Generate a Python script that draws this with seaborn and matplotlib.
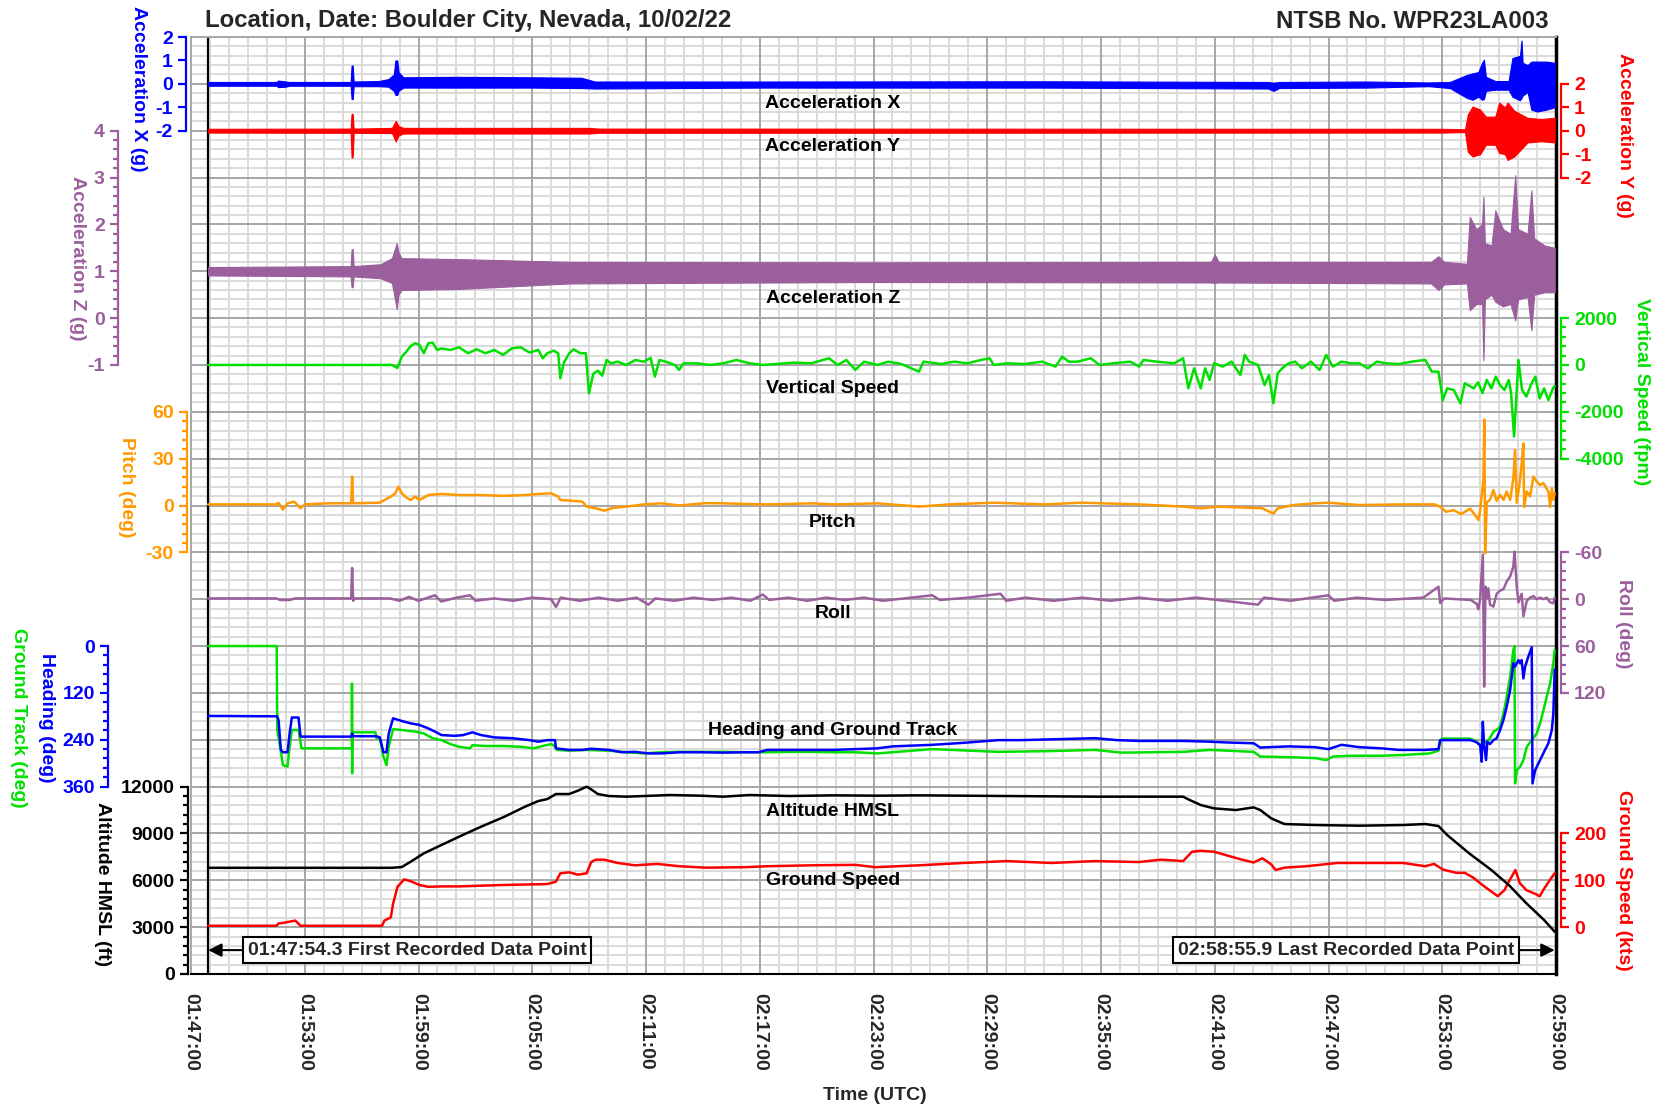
"""
Flight data plot: Boulder City, Nevada, 10/02/22 (NTSB WPR23LA003).
Time axis is minutes after 01:47:00 UTC; each parameter sits on its own
offset y-axis that shares a 20-row background grid.
"""

import numpy as np
import matplotlib

matplotlib.use("Agg")
import matplotlib.pyplot as plt  # noqa: E402
import seaborn as sns  # noqa: E402
from matplotlib.ticker import FixedLocator, StrMethodFormatter  # noqa: E402

# ── Data (minutes after 01:47:00) ─────────────────────────────────────────────
FIRST_POINT = 0.905   # 01:47:54.3
LAST_POINT = 71.93    # 02:58:55.9

XTICK_LABELS = ["01:47:00", "01:53:00", "01:59:00", "02:05:00", "02:11:00",
                "02:17:00", "02:23:00", "02:29:00", "02:35:00", "02:41:00",
                "02:47:00", "02:53:00", "02:59:00"]

# acceleration traces are dense noise: kept as (time, low, high) envelopes
ACC_X = [(0.905, -0.08, 0.08), (4.5, -0.08, 0.08), (4.6, -0.14, 0.14),
         (5.0, -0.12, 0.1), (5.2, -0.08, 0.08), (8.42, -0.08, 0.08),
         (8.47, -0.65, 0.78), (8.53, -0.65, 0.78), (8.58, -0.1, 0.1),
         (9.9, -0.1, 0.12), (10.4, -0.12, 0.2), (10.7, -0.3, 0.4),
         (10.78, -0.47, 1.0), (10.88, -0.47, 1.0), (10.95, -0.3, 0.5),
         (11.2, -0.16, 0.28), (14.0, -0.16, 0.3), (18.0, -0.16, 0.28),
         (20.6, -0.18, 0.26), (21.3, -0.2, 0.1), (30.0, -0.16, 0.1),
         (45.0, -0.16, 0.11), (56.8, -0.2, 0.08), (57.1, -0.3, 0.05),
         (57.4, -0.18, 0.08), (62.0, -0.16, 0.1), (65.3, -0.1, 0.06),
         (66.4, -0.18, 0.08), (67.3, -0.6, 0.38), (67.6, -0.68, 0.45),
         (67.9, -0.55, 0.5), (68.1, -0.68, 0.9), (68.2, -0.65, 1.03),
         (68.3, -0.3, 0.3), (68.8, -0.25, 0.12), (69.5, -0.25, 0.12),
         (69.7, -0.55, 1.1), (70.1, -0.7, 1.2), (70.18, -0.6, 1.85),
         (70.24, -0.5, 0.9), (70.5, -0.35, 0.8), (70.7, -1.1, 0.95),
         (71.0, -1.18, 0.95), (71.5, -1.1, 0.95), (71.93, -1.0, 0.9)]

ACC_Y = [(0.905, -0.08, 0.08), (8.42, -0.09, 0.09), (8.47, -1.14, 0.72),
         (8.53, -1.14, 0.72), (8.58, -0.09, 0.09), (10.6, -0.1, 0.12),
         (10.8, -0.46, 0.42), (10.95, -0.2, 0.2), (11.2, -0.12, 0.12),
         (21.0, -0.12, 0.12), (21.5, -0.09, 0.09), (66.0, -0.08, 0.08),
         (67.2, -0.06, 0.06), (67.35, -0.9, 0.7), (67.6, -1.1, 1.03),
         (68.0, -1.0, 0.9), (68.3, -0.6, 0.6), (68.8, -0.6, 0.6),
         (69.0, -0.95, 1.2), (69.3, -1.0, 1.0), (69.45, -1.25, 1.2),
         (69.8, -1.1, 0.85), (70.5, -0.5, 0.55), (71.2, -0.45, 0.5),
         (71.93, -0.5, 0.55)]

ACC_Z = [(0.905, 0.91, 1.09), (5.0, 0.9, 1.1), (8.42, 0.89, 1.11),
         (8.47, 0.66, 1.47), (8.53, 0.66, 1.47), (8.58, 0.89, 1.11),
         (10.0, 0.85, 1.15), (10.6, 0.75, 1.28), (10.85, 0.19, 1.6),
         (10.95, 0.5, 1.4), (11.1, 0.6, 1.28), (14.0, 0.62, 1.26),
         (17.0, 0.68, 1.23), (20.0, 0.74, 1.2), (36.0, 0.77, 1.19),
         (53.8, 0.76, 1.2), (54.0, 0.75, 1.36), (54.2, 0.76, 1.2),
         (65.4, 0.74, 1.2), (65.8, 0.6, 1.32), (66.1, 0.72, 1.2),
         (67.3, 0.74, 1.16), (67.45, 0.17, 2.16), (67.8, 0.3, 1.9),
         (68.1, 0.3, 2.0), (68.17, -0.9, 2.59), (68.25, 0.4, 1.6),
         (68.6, 0.5, 1.55), (68.8, 0.35, 2.3), (69.2, 0.25, 1.9),
         (69.6, 0.3, 1.8), (69.85, -0.05, 3.05), (70.0, 0.4, 1.9),
         (70.5, 0.45, 1.8), (70.7, -0.26, 2.73), (70.85, 0.5, 1.7),
         (71.4, 0.55, 1.55), (71.93, 0.55, 1.5)]

VERT_SPEED = [
    (0.905, 0), (10.6, 0), (10.89, -130), (11.12, 355), (11.36, 570),
    (11.59, 810), (11.82, 925), (12.05, 860), (12.28, 500), (12.52, 925),
    (12.75, 950), (12.98, 640), (13.21, 700), (13.68, 640), (14.14, 755),
    (14.61, 500), (15.07, 670), (15.53, 500), (16.0, 640), (16.46, 430),
    (16.93, 710), (17.39, 755), (17.86, 530), (18.32, 640), (18.55, 285),
    (18.79, 500), (19.13, 610), (19.37, 500), (19.48, -570), (19.67, 100),
    (19.95, 500), (20.18, 670), (20.53, 500), (20.83, 500), (20.99, -1210),
    (21.22, -380), (21.46, -240), (21.69, -460), (21.92, 210), (22.15, 70),
    (22.5, 140), (22.96, 0), (23.43, 210), (23.89, 140), (24.24, 300),
    (24.47, -500), (24.71, 210), (25.05, 140), (25.52, 0), (25.75, -210),
    (25.98, 70), (26.68, 70), (27.38, 0), (28.07, 70), (28.77, 210),
    (29.47, 70), (30.16, 0), (30.86, 40), (31.79, 100), (32.72, 70),
    (33.65, 285), (34.11, 0), (34.57, 210), (35.04, -210), (35.5, 140),
    (36.2, 0), (36.78, 140), (37.47, 40), (38.4, -285), (38.63, 140),
    (39.56, 40), (40.26, 140), (40.96, 70), (41.65, 210), (42.12, 285),
    (42.35, 0), (43.05, 70), (43.97, 40), (44.9, 140), (45.6, -70),
    (45.95, 356), (46.3, 140), (46.76, 140), (47.46, 285), (47.92, 0),
    (48.62, 70), (49.55, 140), (50.01, -70), (50.24, 214), (50.94, 140),
    (51.87, 70), (52.33, 285), (52.61, -1000), (52.91, -142), (53.26, -1000),
    (53.49, -142), (53.73, -640), (53.96, 70), (54.42, -70), (54.89, 142),
    (55.35, -430), (55.58, 430), (55.81, 142), (56.28, 0), (56.63, -860),
    (56.86, -430), (57.09, -1640), (57.32, -356), (57.56, -142), (57.9, 70),
    (58.25, 142), (58.6, -142), (59.07, 142), (59.53, -214), (59.88, 430),
    (60.23, -70), (60.69, 142), (61.16, 70), (61.62, 70), (62.08, -142),
    (62.55, 142), (63.01, 70), (63.71, 40), (64.41, 142), (65.1, 214),
    (65.45, -285), (65.8, -285), (66.03, -1500), (66.26, -1000),
    (66.61, -1070), (66.96, -1640), (67.19, -780), (67.66, -1000),
    (67.89, -740), (68.12, -1200), (68.35, -640), (68.59, -1000),
    (68.82, -500), (69.05, -860), (69.28, -1070), (69.51, -640),
    (69.63, -1200), (69.79, -3060), (70.02, 210), (70.21, -1070),
    (70.44, -1350), (70.67, -860), (70.91, -500), (71.14, -1430),
    (71.37, -1000), (71.6, -1500), (71.84, -1000), (71.93, -900)]

PITCH = [
    (0.905, 0.7), (4.5, 0.7), (4.62, 1.7), (4.85, -2.6), (5.09, 1.4),
    (5.44, 2.5), (5.78, -1.8), (6.01, 0.7), (7.18, 1.4), (8.45, 1.4),
    (8.5, 18.5), (8.55, 1.4), (9.96, 1.8), (10.2, 3.5), (10.54, 5.7),
    (10.78, 7.8), (10.94, 12.1), (11.12, 7.8), (11.36, 5.1), (11.59, 3.5),
    (11.82, 5.7), (12.05, 3.5), (12.52, 6.7), (13.21, 7.4), (14.14, 6.7),
    (15.3, 6.7), (16.46, 6.2), (17.62, 6.7), (18.32, 7.4), (18.99, 7.8),
    (19.37, 5.7), (19.48, 3.5), (19.95, 3.2), (20.64, 2.5), (20.87, -0.7),
    (21.34, -1.8), (21.8, -3.3), (22.27, -1.5), (22.96, -0.7), (23.89, 0.7),
    (24.82, 1.4), (25.75, 0.0), (27.14, 1.5), (28.07, 1.4), (29.23, 1.0),
    (30.39, 0.7), (31.56, 1.0), (32.72, 1.4), (33.88, 0.7), (35.04, 1.0),
    (36.2, 1.4), (38.4, -0.7), (40.0, 0.7), (42.35, 1.8), (45.0, 0.7),
    (46.99, 1.8), (50.0, 0.7), (52.33, -0.7), (53.26, -1.8), (54.2, -0.7),
    (56.51, -1.8), (57.09, -5.2), (57.32, -1.8), (58.14, 0.3), (59.3, 1.4),
    (59.99, 1.8), (61.62, 0.3), (63.9, 0.7), (65.6, 0.7), (65.9, -0.9),
    (66.2, -4.0), (66.6, -3.0), (67.0, -5.5), (67.47, -2.0), (67.73, -6.1),
    (67.91, -9.3), (68.0, -3.0), (68.17, 16.3), (68.22, 55.0), (68.26, -30.6),
    (68.35, 2.0), (68.52, 3.6), (68.7, 9.9), (68.87, 2.9), (69.05, 6.8),
    (69.23, 3.6), (69.4, 8.9), (69.58, 3.6), (69.75, 17.4), (69.84, 35.5),
    (69.93, 1.7), (70.07, 13.3), (70.19, 27.0), (70.28, 39.8), (70.32, -0.9),
    (70.46, 9.0), (70.63, 5.8), (70.81, 18.5), (70.98, 15.3), (71.16, 13.2),
    (71.34, 14.3), (71.6, 8.9), (71.69, -0.9), (71.78, 11.0), (71.86, 3.6),
    (71.93, 7.9)]

ROLL = [
    (0.905, -1), (4.5, -1), (4.7, 1), (5.2, 1), (5.5, -1), (8.45, -1),
    (8.5, -40), (8.55, 2), (8.6, -1), (10.5, -1), (11.0, 2), (11.5, -3),
    (12.0, 2), (12.86, -5), (13.2, 3), (14.0, -2), (14.72, -5), (15.0, 2),
    (16.0, -1), (17.0, 2), (18.0, -2), (19.0, 0), (19.25, 10), (19.5, -2),
    (20.5, 2), (21.5, -2), (22.5, 2), (23.5, -2), (24.13, 7), (24.5, -1),
    (25.5, 2), (26.5, -2), (27.5, 1), (28.5, -2), (29.5, 2), (30.16, -6),
    (30.5, 1), (31.5, -2), (32.5, 2), (33.5, -2), (34.5, 1), (35.5, -2),
    (36.5, 2), (39.1, -5), (39.5, 1), (41.0, -2), (42.7, -7), (43.0, 2),
    (44.0, -2), (45.5, 2), (47.0, -2), (48.5, 2), (50.0, -2), (51.5, 2),
    (53.0, -2), (54.5, 2), (56.28, 7), (56.6, -2), (58.0, 2), (59.99, -5),
    (60.3, 2), (61.5, -2), (63.0, 1), (65.0, -2), (65.8, -16), (65.89, 5),
    (66.1, -1), (67.5, 1), (67.82, 6), (67.91, 13), (68.0, -1), (68.14, -57),
    (68.21, 112), (68.28, -16), (68.35, -1), (68.43, -14), (68.52, 7),
    (68.7, 9.4), (68.87, -7), (69.05, -11), (69.23, -13), (69.4, -22.6),
    (69.58, -29), (69.75, -41.7), (69.81, -61), (69.93, -16), (70.02, 4),
    (70.19, -7), (70.28, 22), (70.46, 2), (70.63, -2), (70.81, -4),
    (70.98, 0), (71.16, -2), (71.34, 0), (71.51, -2), (71.69, 4),
    (71.86, 5.3), (71.93, -2)]

HEADING = [
    (0.905, 179), (4.55, 180), (4.62, 190), (4.74, 266), (4.85, 272),
    (5.09, 272), (5.2, 224), (5.32, 183), (5.67, 183), (5.78, 232),
    (8.45, 232), (8.5, 224), (8.55, 231), (9.78, 231), (9.96, 234),
    (10.15, 272), (10.31, 272), (10.43, 224), (10.66, 185), (11.12, 192),
    (11.59, 198), (12.05, 202), (12.52, 211), (12.86, 219), (13.21, 228),
    (13.91, 230), (14.37, 228), (14.84, 221), (15.3, 228), (16.0, 234),
    (16.93, 236), (17.86, 241), (18.32, 245), (18.79, 241), (19.2, 241),
    (19.25, 262), (19.95, 266), (20.64, 266), (21.11, 263), (22.04, 266),
    (22.73, 272), (23.43, 271), (24.13, 275), (24.82, 275), (25.75, 272),
    (26.91, 272), (28.07, 273), (29.23, 272), (29.93, 272), (30.39, 266),
    (31.56, 266), (32.72, 266), (33.88, 266), (35.04, 264), (36.2, 262),
    (37.01, 257), (39.1, 253), (40.72, 248), (42.58, 241), (43.74, 241),
    (45.37, 239), (47.69, 236), (48.85, 241), (50.01, 243), (52.33, 243),
    (53.73, 245), (54.65, 247), (56.05, 249), (56.4, 260), (57.9, 257),
    (59.3, 259), (59.99, 264), (60.69, 253), (61.62, 259), (62.78, 262),
    (63.71, 266), (65.1, 266), (65.8, 264), (65.89, 241), (67.47, 241),
    (67.64, 243), (67.82, 247), (68.0, 254), (68.08, 296), (68.14, 194),
    (68.21, 254), (68.31, 292), (68.38, 245), (68.52, 251), (68.7, 241),
    (68.87, 236), (69.05, 215), (69.23, 189), (69.4, 155), (69.58, 113),
    (69.75, 44), (69.84, 53), (70.02, 36), (70.11, 44), (70.19, 36),
    (70.28, 83), (70.37, 53), (70.54, 27), (70.72, 3), (70.76, 352),
    (70.9, 318), (71.16, 292), (71.42, 266), (71.6, 249), (71.78, 215),
    (71.86, 172), (71.93, 60)]

GROUND_TRACK = [
    (0.905, 0), (4.52, 0), (4.55, 215), (4.74, 270), (4.85, 305),
    (5.09, 309), (5.2, 258), (5.32, 215), (5.67, 215), (5.83, 262),
    (8.49, 262), (8.49, 96), (8.5, 326), (8.51, 221), (9.73, 221),
    (9.78, 236), (9.96, 236), (10.15, 283), (10.31, 305), (10.43, 258),
    (10.66, 213), (11.12, 215), (11.82, 219), (12.28, 224), (12.75, 236),
    (13.21, 241), (13.68, 251), (14.14, 258), (14.72, 262), (14.84, 254),
    (15.53, 256), (16.46, 256), (17.39, 258), (18.09, 262), (18.55, 256),
    (19.02, 251), (19.2, 258), (19.3, 266), (19.95, 268), (20.87, 266),
    (22.04, 268), (22.96, 272), (23.89, 275), (24.82, 272), (25.75, 271),
    (26.91, 271), (28.07, 271), (29.23, 272), (30.39, 272), (31.56, 271),
    (32.72, 271), (33.88, 272), (35.04, 272), (36.2, 275), (39.1, 264),
    (42.58, 271), (45.37, 269), (47.69, 266), (49.08, 273), (52.33, 271),
    (53.73, 266), (56.05, 271), (56.4, 283), (58.14, 285), (59.3, 287),
    (59.88, 292), (60.23, 283), (61.16, 281), (62.78, 281), (63.94, 279),
    (65.34, 275), (65.8, 268), (65.89, 241), (66.06, 237), (67.47, 237),
    (67.82, 245), (68.0, 254), (68.17, 249), (68.35, 245), (68.52, 236),
    (68.7, 219), (68.87, 215), (69.05, 206), (69.23, 172), (69.4, 130),
    (69.58, 79), (69.75, 10), (69.81, 0), (69.84, 352), (69.93, 318),
    (70.11, 309), (70.28, 292), (70.46, 258), (70.72, 241), (70.98, 224),
    (71.16, 198), (71.34, 164), (71.51, 130), (71.69, 96), (71.86, 44),
    (71.93, 10)]

ALTITUDE = [
    (0.905, 6800), (10.6, 6800), (11.12, 6850), (11.59, 7193), (12.28, 7726),
    (13.21, 8260), (14.14, 8793), (15.3, 9433), (16.46, 10030),
    (17.62, 10714), (18.32, 11077), (18.79, 11200), (19.25, 11525),
    (19.95, 11525), (20.41, 11740), (20.87, 11995), (21.11, 11820),
    (21.46, 11525), (22.04, 11397), (22.96, 11355), (23.89, 11397),
    (25.29, 11461), (26.91, 11418), (28.07, 11355), (29.47, 11461),
    (31.56, 11397), (33.88, 11440), (36.2, 11418), (38.4, 11440),
    (43.05, 11397), (47.69, 11355), (52.33, 11355), (52.68, 11140),
    (53.26, 10821), (53.96, 10607), (55.12, 10500), (56.05, 10670),
    (56.4, 10500), (56.98, 9966), (57.67, 9604), (59.3, 9540), (61.62, 9497),
    (63.94, 9540), (65.1, 9604), (65.8, 9475), (66.26, 8900), (67.42, 7726),
    (68.59, 6659), (69.51, 5699), (70.44, 4525), (71.37, 3458),
    (71.93, 2710)]

GROUND_SPEED = [
    (0.905, 3), (4.51, 3), (4.62, 8), (4.85, 9), (5.5, 14), (5.78, 3),
    (10.08, 3), (10.2, 14), (10.54, 21), (10.66, 50), (10.89, 86),
    (11.24, 102), (11.59, 98), (12.05, 90), (12.52, 86), (13.21, 87),
    (14.14, 87), (16.46, 90), (18.79, 92), (19.25, 97), (19.48, 115),
    (19.95, 117), (20.41, 112), (20.87, 115), (21.11, 139), (21.34, 144),
    (21.8, 144), (22.5, 137), (23.43, 132), (24.59, 135), (25.75, 130),
    (27.14, 127), (29.23, 128), (30.39, 130), (32.72, 132), (35.04, 133),
    (36.08, 128), (38.4, 132), (40.72, 137), (43.05, 141), (45.37, 137),
    (47.69, 141), (50.01, 139), (51.17, 144), (52.33, 141), (52.8, 161),
    (53.26, 163), (53.96, 161), (54.65, 153), (55.35, 145), (56.05, 138),
    (56.51, 147), (56.98, 134), (57.21, 122), (57.67, 127), (58.83, 130),
    (60.46, 137), (61.62, 137), (63.94, 137), (65.1, 130), (65.57, 135),
    (66.03, 123), (66.73, 116), (67.19, 116), (67.66, 105), (68.12, 90),
    (68.59, 76), (68.93, 66), (69.28, 79), (69.51, 97), (69.86, 122),
    (70.09, 94), (70.44, 79), (70.91, 71), (71.14, 66), (71.37, 82),
    (71.72, 103), (71.93, 115)]

SERIES_LABELS = ["Acceleration X", "Acceleration Y", "Acceleration Z",
                 "Vertical Speed", "Pitch", "Roll", "Heading and Ground Track",
                 "Altitude HMSL", "Ground Speed"]
SERIES_LABEL_ROWS = [18.59, 17.67, 14.41, 12.49, 9.63, 7.69, 5.19, 3.46, 1.99]

# ── Style ─────────────────────────────────────────────────────────────────────
BLUE, RED, PURPLE = "#0000ff", "#ff0000", "#9b5f9e"
GREEN, ORANGE, BLACK = "#00e000", "#ff9900", "#000000"
MAJOR_GRID, MINOR_GRID = "#a6a6a6", "#dadada"
FS = 14
PX = 0.72          # points per pixel at dpi=100
LW = 1.8

sns.set_theme(style="white")
plt.rcParams["font.family"] = ["Liberation Sans", "DejaVu Sans"]
plt.rcParams["font.weight"] = "bold"
plt.rcParams["axes.labelweight"] = "bold"
plt.rcParams["axes.unicode_minus"] = False


def make_axis(ax, side, offset_px, ylim, bounds, major, minor_step, color,
              label, label_xy):
    """Twin axis with a short coloured spine covering only its own band."""
    tw = ax.twinx()
    for s in tw.spines.values():
        s.set_visible(False)
    if side == "left":
        tw.yaxis.tick_left()
        tw.yaxis.set_label_position("left")
    sp = tw.spines[side]
    sp.set_visible(True)
    sp.set_position(("outward", offset_px * PX))
    sp.set_color(color)
    sp.set_linewidth(1.6)
    lo, hi = bounds
    sp.set_bounds(lo, hi)
    tw.set_ylim(*ylim)
    tw.yaxis.set_major_locator(FixedLocator(major))
    minor = np.arange(lo, hi + minor_step / 2, minor_step) if minor_step else []
    tw.yaxis.set_minor_locator(FixedLocator(minor))
    tw.yaxis.set_major_formatter(StrMethodFormatter("{x:.0f}"))
    tw.tick_params(axis="y", which="both", colors=color, width=1.6,
                   direction="out", labelsize=FS)
    tw.tick_params(axis="y", which="major", length=6)
    tw.tick_params(axis="y", which="minor", length=3.5)
    tw.set_ylabel(label, color=color, rotation=270, ha="center", va="center",
                  fontsize=FS, fontweight="bold")
    tw.yaxis.set_label_coords(*label_xy)
    return tw


def draw_line(tw, data, color):
    t, v = np.array(data, dtype=float).T
    sns.lineplot(x=t, y=v, ax=tw, color=color, lw=LW, estimator=None,
                 sort=False, legend=False)


def draw_band(tw, data, color):
    t, lo, hi = np.array(data, dtype=float).T
    tw.fill_between(t, lo, hi, color=color, lw=0.8, edgecolor=color)


# ── Figure / background grid ─────────────────────────────────────────────────
fig = plt.figure(figsize=(16.63, 11.11), dpi=100)
fig.subplots_adjust(left=191 / 1663, right=1556 / 1663,
                    bottom=1 - 974 / 1111, top=1 - 37 / 1111)
ax = fig.add_subplot(111)
ax.set_xlim(0, 72)
ax.set_ylim(0, 20)
ax.set_xticks(np.arange(0, 73, 6))
ax.set_xticks(np.arange(0, 73, 1), minor=True)
ax.set_yticks(np.arange(0, 21, 1))
ax.set_yticks(np.arange(0, 20.01, 0.2), minor=True)
ax.grid(which="minor", color=MINOR_GRID, lw=1.4)
ax.set_axisbelow(True)
# major grid drawn as lines so it stays above the minor grid
for xv in np.arange(6, 72, 6):
    ax.axvline(xv, color=MAJOR_GRID, lw=1.4, zorder=0.8)
for yv in np.arange(1, 20, 1):
    ax.axhline(yv, color=MAJOR_GRID, lw=1.4, zorder=0.8)
ax.tick_params(axis="y", which="both", length=0, labelleft=False)
ax.tick_params(axis="x", which="major", length=8, width=1.5, color=BLACK,
               direction="out", pad=6)
ax.tick_params(axis="x", which="minor", length=6, width=1.5, color=BLACK,
               direction="out")
ax.set_xticklabels(XTICK_LABELS, rotation=270, fontsize=FS, fontweight="bold")
ax.set_xlabel("Time (UTC)", fontsize=FS, fontweight="bold", va="center")
ax.xaxis.set_label_coords(0.501, -0.130)
for side in ("left", "top"):
    ax.spines[side].set_color(MAJOR_GRID)
    ax.spines[side].set_linewidth(1.4)
ax.spines["bottom"].set_color(BLACK)
ax.spines["bottom"].set_linewidth(1.5)
ax.spines["right"].set_color(BLACK)
ax.spines["right"].set_linewidth(2.5)
ax.axvline(FIRST_POINT, color=BLACK, lw=1.6, zorder=0.9)

# ── Parameter axes ────────────────────────────────────────────────────────────
ax_x = make_axis(ax, "left", 5, (-38, 2), (-2, 2), [-2, -1, 0, 1, 2], None,
                 BLUE, "Acceleration X (g)", (-0.0388, 0.9445))
draw_band(ax_x, ACC_X, BLUE)

ax_y = make_axis(ax, "right", 5, (-36, 4), (-2, 2), [-2, -1, 0, 1, 2], None,
                 RED, "Acceleration Y (g)", (1.0505, 0.8954))
draw_band(ax_y, ACC_Y, RED)

ax_z = make_axis(ax, "left", 73, (-14, 6), (-1, 4), [-1, 0, 1, 2, 3, 4], 0.2,
                 PURPLE, "Acceleration Z (g)", (-0.0835, 0.7641))
draw_band(ax_z, ACC_Z, PURPLE)

ax_vs = make_axis(ax, "right", 5, (-26000, 14000), (-4000, 2000),
                  [-4000, -2000, 0, 2000], 400, GREEN,
                  "Vertical Speed (fpm)", (1.063, 0.6211))
draw_line(ax_vs, VERT_SPEED, GREEN)

ax_p = make_axis(ax, "left", 4, (-300, 300), (-30, 60), [-30, 0, 30, 60], 6,
                 ORANGE, "Pitch (deg)", (-0.0469, 0.5197))
draw_line(ax_p, PITCH, ORANGE)

ax_r = make_axis(ax, "right", 5, (480, -720), (-60, 120), [-60, 0, 60, 120],
                 12, PURPLE, "Roll (deg)", (1.0491, 0.3735))
draw_line(ax_r, ROLL, PURPLE)

ax_h = make_axis(ax, "left", 83, (840, -1560), (0, 360), [0, 120, 240, 360],
                 24, BLUE, "Heading (deg)", (-0.1062, 0.2732))
ax_h.text(-0.1267, 0.2732, "Ground Track (deg)", transform=ax_h.transAxes,
          rotation=270, ha="center", va="center", color=GREEN, fontsize=FS,
          fontweight="bold", clip_on=False)
draw_line(ax_h, GROUND_TRACK, GREEN)
draw_line(ax_h, HEADING, BLUE)

ax_gs = make_axis(ax, "right", 5, (-100, 1900), (0, 200), [0, 100, 200], 20,
                  RED, "Ground Speed (kts)", (1.0491, 0.1003))
draw_line(ax_gs, GROUND_SPEED, RED)

ax_alt = make_axis(ax, "left", 3, (0, 60000), (0, 12000),
                   [0, 3000, 6000, 9000, 12000], 600, BLACK,
                   "Altitude HMSL (ft)", (-0.0645, 0.0961))
draw_line(ax_alt, ALTITUDE, BLACK)

# ── Labels and annotations on an overlay ─────────────────────────────────────
ov = ax.twinx()
ov.set_ylim(0, 20)
ov.axis("off")
for text, row in zip(SERIES_LABELS, SERIES_LABEL_ROWS):
    ov.text(33.86, row, text, ha="center", va="center", fontsize=FS,
            fontweight="bold", color=BLACK)

box = dict(boxstyle="square,pad=0.25", fc="white", ec=BLACK, lw=1.5)
arrow = dict(arrowstyle="-|>", color=BLACK, lw=1.5, mutation_scale=20,
             shrinkA=0, shrinkB=0)
ov.annotate("01:47:54.3 First Recorded Data Point", xy=(FIRST_POINT, 0.51),
            xytext=(3.0, 0.51), ha="left", va="center", fontsize=FS,
            fontweight="bold", bbox=box, arrowprops=arrow)
ov.annotate("02:58:55.9 Last Recorded Data Point", xy=(LAST_POINT, 0.51),
            xytext=(69.79, 0.51), ha="right", va="center", fontsize=FS,
            fontweight="bold", bbox=box, arrowprops=arrow)
ax.set_xlim(0, 72)

fig.text(205 / 1663, 1 - 21 / 1111,
         "Location, Date: Boulder City, Nevada, 10/02/22",
         ha="left", va="center", fontsize=17.3, fontweight="bold")
fig.text(1549 / 1663, 1 - 21 / 1111, "NTSB No. WPR23LA003",
         ha="right", va="center", fontsize=17.3, fontweight="bold")

fig.savefig("out.png", dpi=100)
plt.close(fig)
